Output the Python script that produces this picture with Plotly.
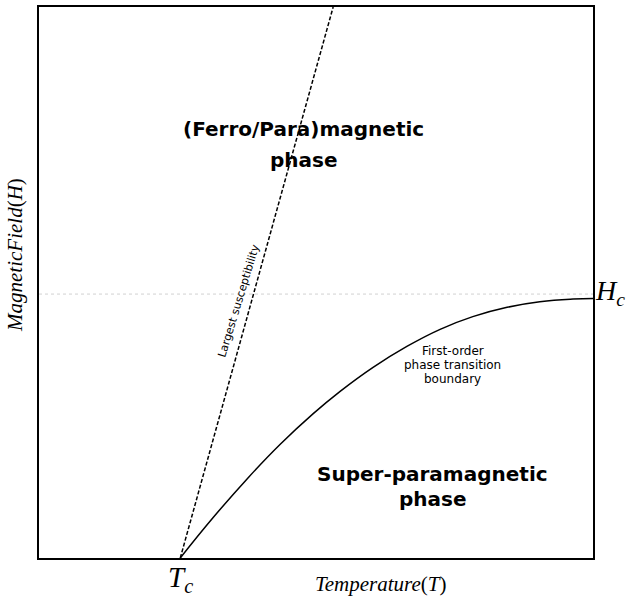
import plotly.graph_objects as go

# Phase boundary (first-order transition)
boundary_T = [2.55, 3.14, 3.76, 4.35, 4.95, 5.43, 6.03, 6.64, 7.24, 7.83, 8.45, 9.04, 9.64, 10.0]
boundary_H = [0.0, 0.73, 1.44, 2.06, 2.62, 3.02, 3.46, 3.84, 4.15, 4.38, 4.55, 4.65, 4.70, 4.71]

# Largest susceptibility line
suscept_T = [2.55, 5.31]
suscept_H = [0.0, 10.0]

Tc = 2.55
Hc = 4.79
x_range = [0, 10]
y_range = [0, 10]

fig = go.Figure()
fig.add_trace(go.Scatter(x=[x_range[0], x_range[1]], y=[Hc, Hc], mode="lines",
                         line=dict(color="#d2d2d2", width=1, dash="dot"), hoverinfo="skip"))
fig.add_trace(go.Scatter(x=suscept_T, y=suscept_H, mode="lines",
                         line=dict(color="black", width=1.5, dash="4px,2px"), hoverinfo="skip"))
fig.add_trace(go.Scatter(x=boundary_T, y=boundary_H, mode="lines", line_shape="spline",
                         line=dict(color="black", width=1.5, smoothing=1.3), hoverinfo="skip"))

bold = "DejaVu Sans, sans-serif"
serif = "Liberation Serif, DejaVu Serif, serif"


def txt(x, y, s, size, family=bold, **kw):
    d = dict(x=x, y=y, text=s, font=dict(family=family, size=size, color="black"),
             showarrow=False, xref="x", yref="y", align="center")
    d.update(kw)
    return d


ann = [
    txt(4.78, 7.79, "<b>(Ferro/Para)magnetic</b>", 20),
    txt(4.78, 7.22, "<b>phase</b>", 20),
    txt(7.11, 1.52, "<b>Super-paramagnetic</b>", 20),
    txt(7.11, 1.07, "<b>phase</b>", 20),
    txt(7.47, 3.75, "First-order", 12),
    txt(7.47, 3.50, "phase transition", 12),
    txt(7.47, 3.25, "boundary", 12),
    txt(3.61, 4.67, "Largest susceptibility", 11, textangle=-73),
    txt(Tc, 0, "<i>T<sub>c</sub></i>", 29, family=serif, yanchor="top", yshift=-1),
    dict(x=1.0, y=4.81, text="<i>H<sub>c</sub></i>", font=dict(family=serif, size=28, color="black"),
         showarrow=False, xref="paper", yref="y", xanchor="left", xshift=0),
    txt(6.17, 0, "<i>Temperature</i>(<i>T</i>)", 21, family=serif, yanchor="top", yshift=-12),
    dict(x=0, y=5.5, text="<i>MagneticField</i>(<i>H</i>)", font=dict(family=serif, size=21, color="black"),
         showarrow=False, xref="paper", yref="y", textangle=-90, xanchor="right", xshift=-10),
]

fig.update_layout(
    width=631, height=599,
    margin=dict(l=39, r=38, t=5, b=41),
    paper_bgcolor="white", plot_bgcolor="white",
    showlegend=False,
    annotations=ann,
    xaxis=dict(range=x_range, showgrid=False, zeroline=False, showticklabels=False, ticks="",
               showline=True, linecolor="black", linewidth=2, mirror=True),
    yaxis=dict(range=y_range, showgrid=False, zeroline=False, showticklabels=False, ticks="",
               showline=True, linecolor="black", linewidth=2, mirror=True),
)

fig.write_html("out.html", config={"displayModeBar": False},
               post_script="document.body.style.margin='0';document.body.style.overflow='hidden';")
